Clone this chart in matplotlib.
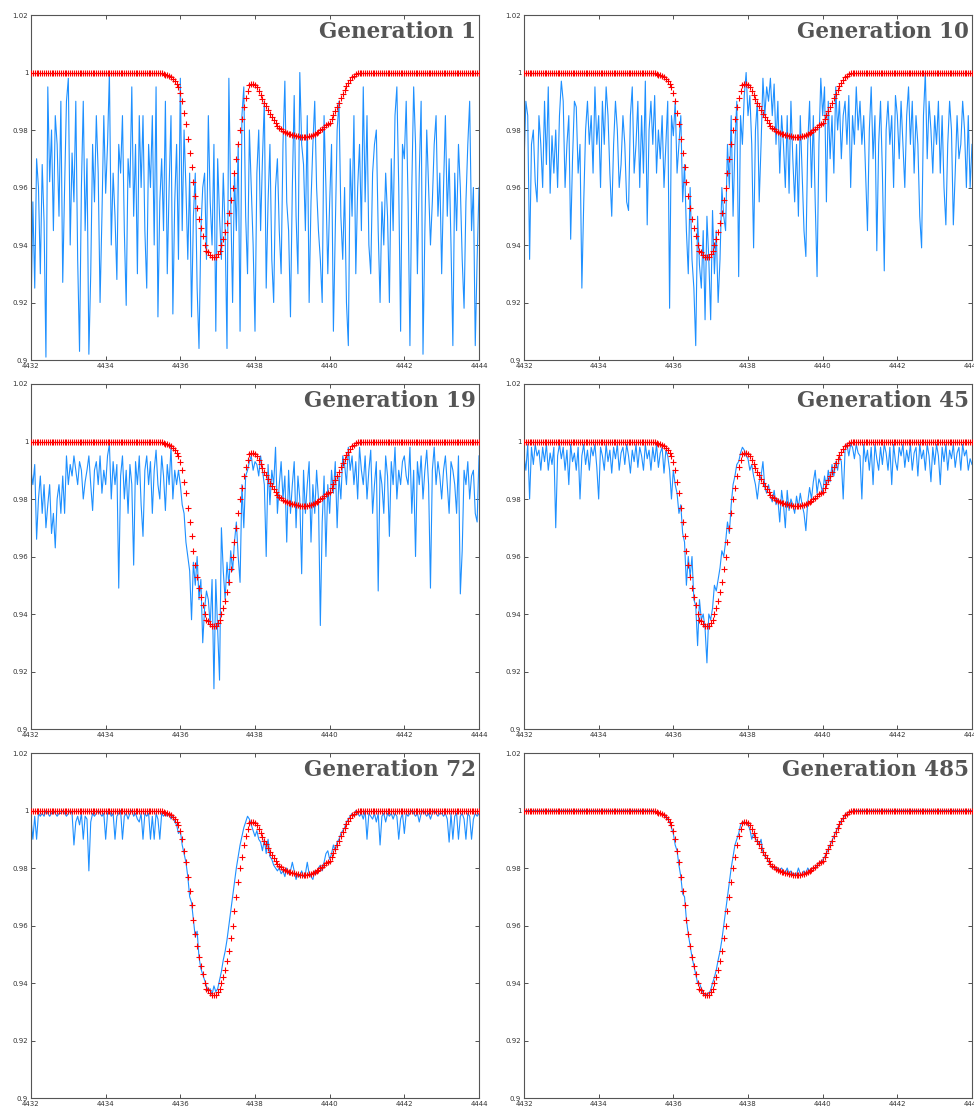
import numpy as np
import matplotlib.pyplot as plt
from matplotlib.ticker import FuncFormatter

# wavelength grid, 0.05 A step
wavelength = np.linspace(4432, 4444, 241)

# target line profile (red crosses)
target = [
    1.0, 1.0, 1.0, 1.0, 1.0, 1.0, 1.0, 1.0, 1.0, 1.0, 1.0, 1.0, 1.0, 1.0, 1.0, 1.0, 1.0, 1.0, 1.0, 1.0,
    1.0, 1.0, 1.0, 1.0, 1.0, 1.0, 1.0, 1.0, 1.0, 1.0, 1.0, 1.0, 1.0, 1.0, 1.0, 1.0, 1.0, 1.0, 1.0, 1.0,
    1.0, 1.0, 1.0, 1.0, 1.0, 1.0, 1.0, 1.0, 1.0, 1.0, 1.0, 1.0, 1.0, 1.0, 1.0, 1.0, 1.0, 1.0, 1.0, 1.0,
    1.0, 1.0, 1.0, 1.0, 1.0, 1.0, 1.0, 1.0, 1.0, 1.0, 0.9997, 0.9995, 0.9993, 0.999, 0.9987, 0.9983, 0.9978, 0.997, 0.996, 0.9948,
    0.993, 0.990, 0.986, 0.982, 0.977, 0.972, 0.967, 0.962, 0.957, 0.953, 0.949, 0.946, 0.943, 0.940, 0.938, 0.9375, 0.9365, 0.936, 0.936, 0.936,
    0.937, 0.938, 0.940, 0.942, 0.9445, 0.9475, 0.951, 0.9555, 0.960, 0.965, 0.970, 0.975, 0.980, 0.984, 0.988, 0.991, 0.9935, 0.9955, 0.996, 0.996,
    0.9955, 0.9948, 0.9935, 0.9922, 0.9908, 0.9895, 0.9882, 0.9869, 0.9857, 0.9845, 0.9834, 0.9824, 0.9815, 0.9808, 0.9802, 0.9797, 0.9793, 0.979, 0.9787, 0.9785,
    0.9783, 0.9781, 0.9779, 0.9778, 0.9777, 0.9776, 0.9776, 0.9776, 0.9777, 0.9778, 0.978, 0.9783, 0.9786, 0.979, 0.9794, 0.9799, 0.9804, 0.981, 0.9816, 0.9821,
    0.9826, 0.9838, 0.9851, 0.9865, 0.988, 0.9895, 0.991, 0.9925, 0.9939, 0.9952, 0.9964, 0.9974, 0.9983, 0.9989, 0.9994, 0.9997, 0.9999, 1.0, 1.0, 1.0,
    1.0, 1.0, 1.0, 1.0, 1.0, 1.0, 1.0, 1.0, 1.0, 1.0, 1.0, 1.0, 1.0, 1.0, 1.0, 1.0, 1.0, 1.0, 1.0, 1.0,
    1.0, 1.0, 1.0, 1.0, 1.0, 1.0, 1.0, 1.0, 1.0, 1.0, 1.0, 1.0, 1.0, 1.0, 1.0, 1.0, 1.0, 1.0, 1.0, 1.0,
    1.0, 1.0, 1.0, 1.0, 1.0, 1.0, 1.0, 1.0, 1.0, 1.0, 1.0, 1.0, 1.0, 1.0, 1.0, 1.0, 1.0, 1.0, 1.0, 1.0,
    1.0,
]

# best individual of each generation (blue line)
gen_1 = [
    0.916, 0.955, 0.925, 0.970, 0.960, 0.930, 0.968, 0.948, 0.901, 0.995, 0.962, 0.980, 0.945, 0.985, 0.975, 0.950, 0.990, 0.927, 0.960, 0.990,
    0.998, 0.940, 0.972, 0.955, 0.990, 0.935, 0.903, 0.960, 0.990, 0.945, 0.970, 0.902, 0.930, 0.975, 0.955, 0.985, 0.965, 0.920, 0.950, 0.985,
    0.958, 0.975, 1.000, 0.940, 0.965, 0.950, 0.928, 0.975, 0.965, 0.985, 0.945, 0.919, 0.970, 0.960, 0.995, 0.950, 0.975, 0.930, 0.985, 0.960,
    0.985, 0.945, 0.925, 0.975, 0.960, 0.985, 0.940, 0.995, 0.915, 0.955, 0.970, 0.945, 0.990, 0.930, 0.960, 0.985, 0.916, 0.955, 0.975, 0.935,
    0.998, 0.945, 0.980, 0.960, 0.935, 0.965, 0.915, 0.950, 0.965, 0.925, 0.904, 0.945, 0.960, 0.965, 0.935, 0.985, 0.955, 0.940, 0.975, 0.910,
    0.970, 0.950, 0.935, 0.965, 0.945, 0.904, 0.998, 0.955, 0.920, 0.965, 0.945, 0.975, 0.910, 0.985, 0.995, 0.950, 0.930, 0.980, 0.960, 0.940,
    0.910, 0.965, 0.980, 0.945, 0.970, 0.990, 0.925, 0.955, 0.975, 0.935, 0.920, 0.960, 0.970, 0.945, 0.930, 0.975, 0.997, 0.955, 0.945, 0.915,
    0.960, 0.992, 0.950, 0.930, 1.000, 0.975, 0.968, 0.945, 0.985, 0.920, 0.955, 0.975, 0.990, 0.960, 0.945, 0.935, 0.920, 0.985, 0.960, 0.930,
    0.955, 0.975, 0.910, 0.945, 0.980, 0.990, 0.950, 0.935, 0.960, 0.920, 0.905, 0.970, 0.950, 0.985, 0.930, 0.960, 0.975, 0.945, 0.995, 0.955,
    0.985, 0.940, 0.930, 0.965, 0.975, 0.980, 0.945, 0.920, 0.955, 0.940, 0.965, 0.950, 0.920, 0.970, 0.945, 0.985, 0.995, 0.960, 0.910, 0.975,
    0.970, 0.990, 0.955, 0.905, 0.960, 0.995, 0.975, 0.930, 0.965, 0.990, 0.902, 0.945, 0.980, 0.960, 0.940, 0.955, 0.975, 0.985, 0.950, 0.965,
    0.930, 0.960, 0.985, 0.950, 0.970, 0.940, 0.905, 0.965, 0.945, 0.975, 0.960, 0.935, 0.918, 0.955, 0.975, 0.990, 0.945, 0.960, 0.905, 0.935,
    0.960,
]

gen_10 = [
    0.968, 0.990, 0.985, 0.935, 0.975, 0.980, 0.962, 0.955, 0.985, 0.975, 0.960, 0.990, 0.968, 0.995, 0.958, 0.978, 0.965, 0.980, 0.960, 0.985,
    0.997, 0.990, 0.960, 0.975, 0.985, 0.942, 0.970, 0.990, 0.988, 0.965, 0.975, 0.925, 0.955, 0.980, 0.990, 0.975, 0.985, 0.965, 0.995, 0.975,
    0.985, 0.960, 0.990, 0.975, 0.995, 0.985, 0.965, 0.950, 0.975, 0.990, 0.980, 0.960, 0.968, 0.985, 0.975, 0.955, 0.952, 0.985, 0.995, 0.965,
    0.975, 0.990, 0.960, 0.985, 0.965, 0.997, 0.947, 0.980, 0.990, 0.975, 0.992, 0.965, 0.980, 0.970, 0.985, 0.960, 0.975, 0.990, 0.918, 0.985,
    0.978, 0.990, 0.965, 0.975, 0.985, 0.955, 0.968, 0.945, 0.930, 0.960, 0.935, 0.925, 0.905, 0.950, 0.933, 0.925, 0.945, 0.914, 0.950, 0.935,
    0.914, 0.952, 0.930, 0.945, 0.920, 0.935, 0.960, 0.950, 0.945, 0.975, 0.960, 0.985, 0.950, 0.975, 0.990, 0.929, 0.985, 0.975, 0.992, 1.000,
    0.985, 0.992, 0.975, 0.939, 0.980, 0.990, 0.955, 0.975, 0.998, 0.985, 0.995, 0.990, 0.998, 0.985, 0.996, 0.975, 0.990, 0.965, 0.985, 0.975,
    0.960, 0.985, 0.958, 0.990, 0.970, 0.955, 0.975, 0.950, 0.985, 0.965, 0.945, 0.936, 0.975, 0.990, 0.960, 0.985, 0.955, 0.929, 0.975, 0.998,
    0.985, 0.995, 0.955, 0.990, 0.970, 0.985, 0.965, 0.995, 0.980, 0.990, 0.970, 0.985, 0.990, 0.975, 0.992, 0.960, 0.985, 0.975, 0.995, 0.980,
    0.990, 0.975, 0.985, 0.965, 0.945, 0.980, 0.995, 0.970, 0.985, 0.938, 0.975, 0.990, 0.965, 0.931, 0.980, 0.990, 0.975, 0.985, 0.960, 0.992,
    0.985, 0.970, 0.990, 0.975, 0.960, 0.985, 0.995, 0.975, 0.990, 0.965, 0.985, 0.975, 0.950, 0.939, 0.985, 1.000, 0.970, 0.990, 0.980, 0.965,
    0.985, 0.975, 0.990, 0.965, 0.985, 0.960, 0.947, 0.975, 0.990, 0.980, 0.947, 0.965, 0.985, 0.970, 0.975, 0.990, 0.980, 0.960, 0.985, 0.960,
    0.975,
]

gen_19 = [
    0.990, 0.985, 0.992, 0.966, 0.980, 0.988, 0.975, 0.985, 0.970, 0.978, 0.985, 0.968, 0.975, 0.963, 0.980, 0.985, 0.975, 0.988, 0.975, 0.995,
    0.985, 0.992, 0.988, 0.995, 0.990, 0.985, 0.993, 0.990, 0.980, 0.986, 0.990, 0.995, 0.985, 0.976, 0.990, 0.993, 0.985, 0.995, 0.982, 0.990,
    0.985, 0.995, 0.999, 0.980, 0.993, 0.985, 0.992, 0.949, 0.988, 0.995, 0.980, 0.990, 0.975, 0.992, 0.985, 0.957, 0.993, 0.985, 0.995, 0.978,
    0.967, 0.990, 0.995, 0.985, 0.993, 0.975, 0.990, 0.997, 0.985, 0.980, 0.995, 0.988, 0.976, 0.992, 0.985, 0.998, 0.980, 0.990, 0.985, 0.990,
    0.985, 0.978, 0.975, 0.965, 0.960, 0.955, 0.938, 0.958, 0.950, 0.960, 0.945, 0.952, 0.930, 0.942, 0.948, 0.945, 0.936, 0.952, 0.914, 0.952,
    0.935, 0.917, 0.970, 0.955, 0.945, 0.958, 0.950, 0.962, 0.955, 0.965, 0.972, 0.960, 0.951, 0.985, 0.970, 0.988, 0.990, 0.993, 0.995, 0.990,
    0.993, 0.992, 0.988, 0.995, 0.990, 0.985, 0.960, 0.992, 0.978, 0.990, 0.985, 0.998, 0.975, 0.985, 0.993, 0.980, 0.988, 0.965, 0.990, 0.975,
    0.985, 0.993, 0.970, 0.988, 0.980, 0.954, 0.990, 0.975, 0.985, 0.993, 0.965, 0.985, 0.975, 0.990, 0.980, 0.936, 0.972, 0.988, 0.960, 0.985,
    0.975, 0.990, 0.982, 0.993, 0.970, 0.988, 0.980, 0.995, 0.992, 0.985, 0.998, 0.990, 0.995, 0.985, 0.993, 0.980, 0.998, 0.990, 0.985, 0.995,
    0.980, 0.990, 0.997, 0.975, 0.985, 0.993, 0.948, 0.990, 0.985, 0.975, 0.995, 0.988, 0.967, 0.993, 0.985, 0.998, 0.980, 0.990, 0.985, 0.993,
    0.995, 0.988, 0.985, 0.998, 0.975, 0.990, 0.960, 0.993, 0.985, 0.995, 0.980, 0.990, 0.997, 0.985, 0.949, 0.990, 0.998, 0.985, 0.993, 0.988,
    0.980, 0.990, 0.995, 0.985, 0.975, 0.993, 0.990, 0.985, 0.975, 0.995, 0.947, 0.962, 0.990, 0.985, 0.993, 0.980, 0.988, 0.990, 0.975, 0.972,
    0.995,
]

gen_45 = [
    0.995, 0.990, 0.999, 0.980, 0.998, 0.992, 0.999, 0.995, 0.997, 0.990, 0.998, 0.993, 0.999, 0.990, 0.996, 0.992, 0.998, 0.970, 0.995, 0.999,
    0.994, 0.998, 0.990, 0.997, 0.985, 0.999, 0.993, 0.996, 0.990, 0.998, 0.980, 0.995, 0.999, 0.992, 0.997, 0.990, 0.998, 0.995, 0.999, 0.991,
    0.980, 0.998, 0.995, 0.990, 0.999, 0.993, 0.997, 0.989, 0.998, 0.994, 0.999, 0.990, 0.996, 0.998, 0.992, 0.999, 0.995, 0.989, 0.997, 0.993,
    0.999, 0.991, 0.998, 0.995, 0.990, 0.999, 0.994, 0.997, 0.990, 0.998, 0.993, 0.999, 0.991, 0.996, 0.998, 0.989, 0.997, 0.995, 0.990, 0.980,
    0.990, 0.985, 0.982, 0.975, 0.978, 0.968, 0.965, 0.950, 0.960, 0.953, 0.960, 0.945, 0.943, 0.929, 0.945, 0.938, 0.940, 0.935, 0.923, 0.940,
    0.938, 0.942, 0.950, 0.948, 0.952, 0.956, 0.962, 0.960, 0.965, 0.972, 0.968, 0.978, 0.985, 0.988, 0.992, 0.993, 0.996, 0.998, 0.997, 0.995,
    0.994, 0.990, 0.992, 0.988, 0.985, 0.980, 0.986, 0.988, 0.993, 0.984, 0.982, 0.985, 0.981, 0.979, 0.983, 0.978, 0.980, 0.972, 0.983, 0.978,
    0.970, 0.983, 0.976, 0.980, 0.978, 0.975, 0.981, 0.977, 0.982, 0.978, 0.975, 0.969, 0.979, 0.984, 0.980, 0.986, 0.990, 0.982, 0.987, 0.985,
    0.982, 0.988, 0.984, 0.990, 0.986, 0.992, 0.988, 0.993, 0.990, 0.995, 0.993, 0.980, 0.997, 0.999, 0.995, 0.999, 0.998, 0.994, 0.999, 0.996,
    0.995, 0.980, 0.999, 0.993, 0.997, 0.990, 0.998, 0.985, 0.999, 0.994, 0.990, 0.998, 0.992, 0.999, 0.996, 0.990, 0.998, 0.985, 0.999, 0.993,
    0.990, 0.998, 0.995, 0.999, 0.991, 0.997, 0.993, 0.999, 0.990, 0.996, 0.998, 0.988, 0.999, 0.994, 0.997, 0.990, 0.999, 0.995, 0.986, 0.998,
    0.992, 0.999, 0.995, 0.985, 0.998, 0.993, 0.999, 0.990, 0.997, 0.994, 0.999, 0.991, 0.996, 0.998, 0.990, 0.999, 0.995, 0.997, 0.990, 0.994,
    0.992,
]

gen_72 = [
    0.997, 0.990, 0.998, 0.990, 0.999, 0.998, 0.999, 0.998, 1.000, 0.999, 0.998, 0.999, 1.000, 0.999, 0.998, 0.999, 0.999, 1.000, 0.999, 0.998,
    0.999, 1.000, 0.999, 0.988, 0.996, 0.998, 0.995, 0.999, 0.990, 0.998, 0.997, 0.979, 0.996, 0.999, 0.998, 0.999, 1.000, 0.999, 0.998, 0.999,
    0.990, 0.999, 1.000, 0.998, 0.999, 0.990, 0.998, 0.999, 1.000, 0.990, 0.998, 0.999, 0.997, 0.999, 1.000, 0.998, 0.999, 0.997, 0.996, 0.999,
    0.990, 0.999, 0.998, 0.999, 0.990, 0.998, 0.990, 0.999, 0.997, 0.990, 0.999, 0.998, 0.999, 0.998, 0.999, 0.997, 0.998, 0.996, 0.995, 0.992,
    0.993, 0.988, 0.985, 0.982, 0.977, 0.970, 0.968, 0.962, 0.956, 0.958, 0.949, 0.945, 0.943, 0.941, 0.939, 0.937, 0.938, 0.936, 0.939, 0.937,
    0.938, 0.941, 0.944, 0.948, 0.951, 0.955, 0.960, 0.965, 0.970, 0.975, 0.980, 0.984, 0.988, 0.991, 0.994, 0.996, 0.998, 0.997, 0.995, 0.993,
    0.991, 0.993, 0.990, 0.989, 0.986, 0.990, 0.985, 0.990, 0.984, 0.983, 0.981, 0.980, 0.979, 0.980, 0.978, 0.979, 0.977, 0.980, 0.978, 0.979,
    0.982, 0.979, 0.976, 0.978, 0.977, 0.979, 0.977, 0.978, 0.982, 0.978, 0.977, 0.976, 0.979, 0.978, 0.980, 0.981, 0.979, 0.982, 0.985, 0.986,
    0.983, 0.985, 0.988, 0.986, 0.989, 0.990, 0.992, 0.993, 0.994, 0.996, 0.997, 0.998, 0.999, 0.998, 1.000, 0.999, 0.998, 0.999, 0.997, 1.000,
    0.990, 0.999, 0.998, 0.997, 0.999, 0.996, 0.999, 0.988, 0.998, 0.999, 0.996, 0.999, 0.998, 0.999, 0.997, 0.999, 0.998, 0.990, 0.997, 0.999,
    0.992, 0.999, 0.998, 0.999, 1.000, 0.999, 0.998, 0.999, 0.996, 0.999, 1.000, 0.999, 0.998, 0.999, 0.997, 0.999, 1.000, 0.999, 0.998, 0.999,
    0.999, 0.998, 0.999, 0.997, 0.989, 0.999, 0.990, 0.998, 0.999, 0.990, 0.998, 0.999, 0.997, 0.990, 0.999, 0.998, 0.990, 0.997, 0.999, 0.998,
    0.999,
]

gen_485 = [
    1.0, 1.0, 1.0, 1.0, 1.0, 1.0, 1.0, 1.0, 1.0, 1.0, 1.0, 1.0, 1.0, 1.0, 1.0, 1.0, 1.0, 1.0, 1.0, 1.0,
    1.0, 1.0, 1.0, 1.0, 1.0, 1.0, 1.0, 1.0, 1.0, 1.0, 1.0, 1.0, 1.0, 1.0, 1.0, 1.0, 1.0, 1.0, 1.0, 1.0,
    1.0, 1.0, 1.0, 1.0, 1.0, 1.0, 1.0, 1.0, 1.0, 1.0, 1.0, 1.0, 1.0, 1.0, 1.0, 1.0, 1.0, 1.0, 1.0, 1.0,
    1.0, 1.0, 1.0, 1.0, 1.0, 1.0, 1.0, 1.0, 1.0, 1.0, 0.9997, 0.9995, 0.9993, 0.999, 0.9987, 0.9983, 0.9978, 0.997, 0.996, 0.994,
    0.992, 0.988, 0.986, 0.981, 0.977, 0.971, 0.970, 0.962, 0.957, 0.953, 0.949, 0.946, 0.943, 0.940, 0.940, 0.938, 0.9365, 0.936, 0.936, 0.9365,
    0.9375, 0.940, 0.942, 0.9445, 0.948, 0.951, 0.955, 0.960, 0.965, 0.970, 0.975, 0.980, 0.984, 0.988, 0.990, 0.992, 0.995, 0.996, 0.996, 0.9955,
    0.995, 0.9935, 0.990, 0.992, 0.990, 0.9895, 0.988, 0.990, 0.9855, 0.984, 0.9835, 0.9822, 0.981, 0.980, 0.9802, 0.9797, 0.980, 0.9793, 0.980, 0.979,
    0.9785, 0.980, 0.978, 0.979, 0.9778, 0.978, 0.9776, 0.980, 0.978, 0.9778, 0.979, 0.978, 0.980, 0.979, 0.980, 0.9796, 0.980, 0.981, 0.9816, 0.9822,
    0.9828, 0.9838, 0.9852, 0.9864, 0.988, 0.9895, 0.991, 0.9925, 0.994, 0.9952, 0.9964, 0.9974, 0.9983, 0.9989, 0.9994, 0.9997, 0.9999, 1.0, 1.0, 1.0,
    1.0, 1.0, 1.0, 1.0, 1.0, 1.0, 1.0, 1.0, 1.0, 1.0, 1.0, 1.0, 1.0, 1.0, 1.0, 1.0, 1.0, 1.0, 1.0, 1.0,
    1.0, 1.0, 1.0, 1.0, 1.0, 1.0, 1.0, 1.0, 1.0, 1.0, 1.0, 1.0, 1.0, 1.0, 1.0, 1.0, 1.0, 1.0, 1.0, 1.0,
    1.0, 1.0, 1.0, 1.0, 1.0, 1.0, 1.0, 1.0, 1.0, 1.0, 1.0, 1.0, 1.0, 1.0, 1.0, 1.0, 1.0, 1.0, 1.0, 1.0,
    1.0,
]

generations = [1, 10, 19, 45, 72, 485]
fits = [gen_1, gen_10, gen_19, gen_45, gen_72, gen_485]

xticks = [4432, 4434, 4436, 4438, 4440, 4442, 4444]
yticks = [0.9, 0.92, 0.94, 0.96, 0.98, 1.0, 1.02]

W, H = 974, 1111
fig = plt.figure(figsize=(W / 100, H / 100), dpi=100)

lefts = [31, 524]
tops = [15, 384, 753]
aw, ah = 448, 345

for k, (gen, fit) in enumerate(zip(generations, fits)):
    row, col = divmod(k, 2)
    ax = fig.add_axes([lefts[col] / W, 1 - (tops[row] + ah) / H, aw / W, ah / H])

    ax.plot(wavelength, fit, color='#1E90FF', lw=0.8, zorder=2)
    ax.plot(wavelength, target, ls='none', marker='+', color='red',
            ms=4.5, mew=0.8, zorder=3)

    ax.set_xlim(4432, 4444)
    ax.set_ylim(0.9, 1.02)
    ax.set_xticks(xticks)
    ax.set_yticks(yticks)
    ax.yaxis.set_major_formatter(FuncFormatter(lambda v, p: '%g' % round(v, 2)))
    ax.tick_params(direction='in', length=3, width=0.6, labelsize=5,
                   top=True, right=True, colors='#333333', pad=2)
    for s in ax.spines.values():
        s.set_color('#555555')
        s.set_linewidth(0.8)

    ax.text(0.993, 0.95, 'Generation %d' % gen, transform=ax.transAxes,
            ha='right', va='center', fontsize=15.5, fontweight='bold',
            family='DejaVu Serif', color='#555555')

fig.savefig('out.png', dpi=100)
